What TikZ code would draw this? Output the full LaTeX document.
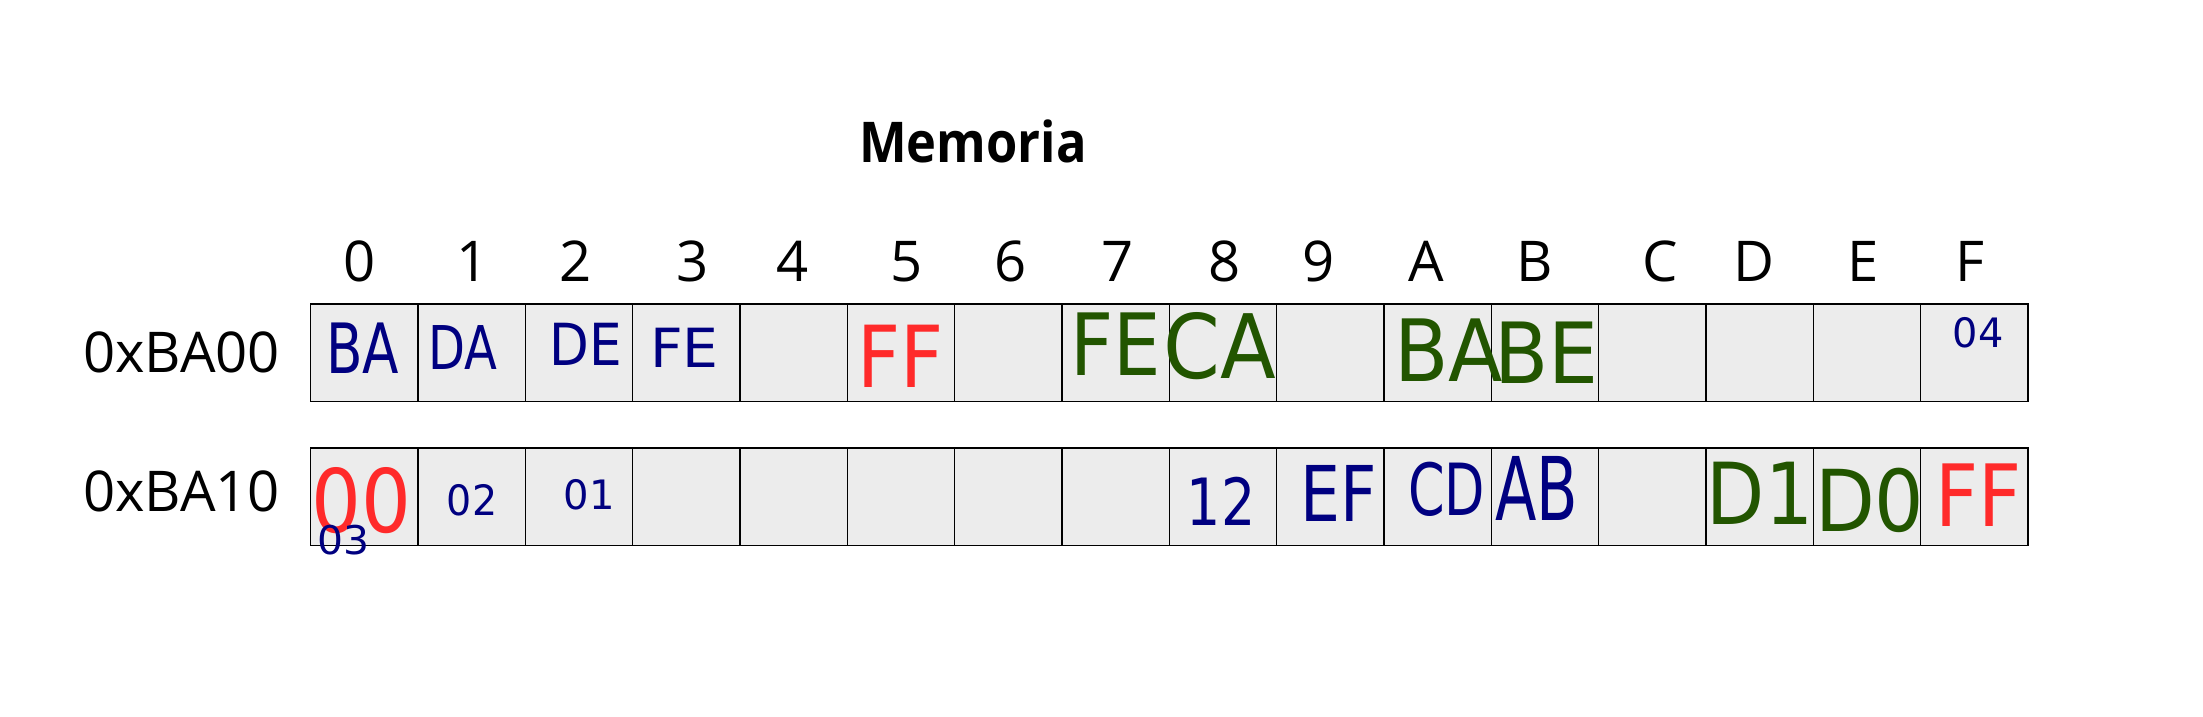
\documentclass[tikz,border=0pt]{standalone}
\usepackage{fontspec}
\usepackage{graphicx}
\setmainfont{Open Sans}
\newfontfamily\valfont{DejaVu Sans}

\definecolor{memblue}{HTML}{000080}
\definecolor{memred}{HTML}{FF2A2A}
\definecolor{memgreen}{HTML}{225500}
\definecolor{cellgray}{HTML}{ECECEC}

% name, x, y, colour, width, height, text
\newcommand{\hexval}[7]{%
  \node[text=#4, inner sep=0pt] (#1) at (#2,#3) {\resizebox{#5pt}{#6pt}{\valfont #7}};}

\begin{document}
\begin{tikzpicture}[x=1pt,y=-1pt,
    cell/.style={draw=black, line width=1pt, fill=cellgray,
      minimum width=76.4pt, minimum height=69.4pt, inner sep=0pt},
    hdr/.style={font=\fontsize{40}{48}\selectfont, anchor=base, inner sep=0pt}]
  \useasboundingbox (0,0) rectangle (1568,510);

  \node[hdr, font=\fontsize{40}{48}\selectfont\bfseries] (title) at (692.4,115.8) {\scalebox{0.9}[1]{Memoria}};

  % column headers
  \foreach \l/\x in {0/255.7, 1/336.3, 2/409.5, 3/492.7, 4/564, 5/645.3, 6/719.1, 7/795.1,
                     8/871.7, 9/938.3, A/1015.4, B/1092, C/1181.5, D/1248.5, E/1325.9, F/1402.4}
    \node[hdr] (h\l) at (\x,200.7) {\l};

  % the two memory rows
  \foreach \c in {0,...,15} {
    \node[cell] (a\c) at ({259.3+76.4*\c},251.1) {};
    \node[cell] (b\c) at ({259.3+76.4*\c},353.7) {};
  }

  \node[hdr] (row0) at (129.3,265.2) {0xBA00};
  \node[hdr] (row1) at (129.3,364.4) {0xBA10};

  % row 0xBA00
  \hexval{v00}{258}{247.7}{memblue}{51.9}{36}{BA}
  \hexval{v01}{329.5}{247.6}{memblue}{49.1}{31.3}{DA}
  \hexval{v02}{416.7}{244.8}{memblue}{51.5}{30.1}{DE}
  \hexval{v03}{487.2}{247.7}{memblue}{48.8}{28}{FE}
  \hexval{v05}{640.7}{253.5}{memred}{61.4}{44.4}{FF}
  \hexval{v07}{794.4}{245.3}{memgreen}{64.5}{44.6}{FE}
  \hexval{v08}{868}{246.5}{memgreen}{80.1}{47}{CA}
  \hexval{v0A}{1031.2}{248.9}{memgreen}{77.4}{44.6}{BA}
  \hexval{v0B}{1100.8}{250.9}{memgreen}{74.1}{43.8}{BE}
  \hexval{v0F}{1407.9}{236.8}{memblue}{36.1}{21.4}{04}

  % row 0xBA10
  \hexval{v10}{257.2}{356.5}{memred}{71}{46.3}{00}
  \hexval{v10b}{244.6}{384.6}{memblue}{37}{20.9}{03}
  \hexval{v11}{336}{356.3}{memblue}{35.8}{22.1}{02}
  \hexval{v12}{419.3}{352.3}{memblue}{36.3}{21.4}{01}
  \hexval{v18}{869.2}{356.5}{memblue}{48.8}{34.4}{12}
  \hexval{v19}{952.8}{351.4}{memblue}{54.3}{39.9}{EF}
  \hexval{v1A}{1029.7}{348.3}{memblue}{54.8}{38}{CD}
  \hexval{v1B}{1093.7}{347.8}{memblue}{59}{45.6}{AB}
  \hexval{v1D}{1252.7}{350.8}{memgreen}{75.7}{44.4}{D1}
  \hexval{v1E}{1330.8}{356.4}{memgreen}{77.8}{45.1}{D0}
  \hexval{v1F}{1408}{352.6}{memred}{61.4}{44.6}{FF}
\end{tikzpicture}
\end{document}
